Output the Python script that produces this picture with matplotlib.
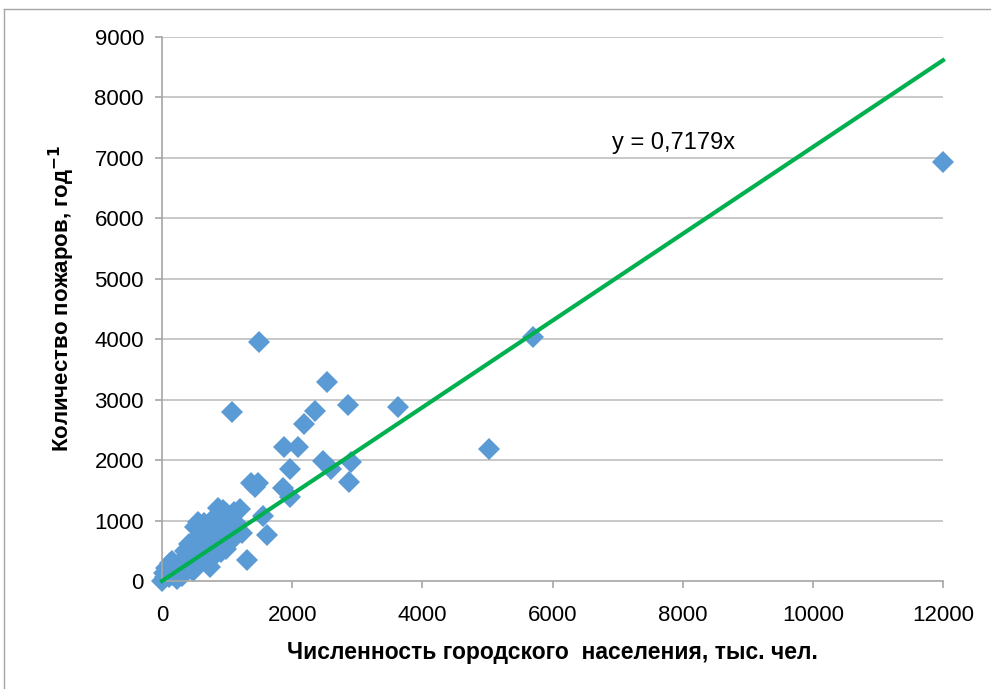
import matplotlib
matplotlib.use("Agg")
import matplotlib.pyplot as plt
import numpy as np
from matplotlib.lines import Line2D

# Data: population (thousand people) vs number of fires per year
population = [12000, 5700, 5020, 3620, 1490, 2540, 2860, 2350, 1080, 2180,
              1880, 2090, 1960, 2470, 2590, 2900, 2870, 1860, 1970, 1370,
              1470, 1430, 1550, 1610, 1310,
              1200, 1100, 1230, 1060, 990, 940, 860, 1000, 980, 1050,
              900, 880, 820, 760, 700, 640, 560, 510, 600, 700,
              760, 640, 520, 420, 480, 560, 650, 740, 830, 900,
              700, 740, 560, 480, 460, 380, 330, 270, 220, 180,
              140, 120, 100, 80, 50, 0, 160, 250, 300, 380,
              420, 600, 800, 900, 1050, 1150, 350, 450, 550, 660,
              60, 110, 200, 150, 30, 230, 310]
fires = [6930, 4030, 2180, 2880, 3960, 3290, 2920, 2820, 2790, 2590,
         2210, 2210, 1850, 1990, 1850, 1970, 1640, 1540, 1390, 1620,
         1620, 1560, 1070, 760, 340,
         1190, 1140, 800, 1000, 1130, 1170, 1210, 1000, 530, 900,
         980, 720, 850, 1000, 930, 960, 980, 900, 800, 800,
         640, 680, 700, 620, 540, 560, 510, 560, 580, 600,
         350, 230, 330, 170, 300, 430, 330, 300, 250, 280,
         200, 300, 150, 100, 60, 0, 100, 120, 180, 240,
         360, 440, 420, 480, 650, 950, 500, 450, 620, 580,
         220, 60, 130, 330, 130, 40, 90]
slope = 0.7179
trend_x = [0, 12000]
x_ticks = [0, 2000, 4000, 6000, 8000, 10000, 12000]
y_ticks = [0, 1000, 2000, 3000, 4000, 5000, 6000, 7000, 8000, 9000]

plt.rcParams['font.family'] = ['Liberation Sans', 'DejaVu Sans']

fig = plt.figure(figsize=(9.91, 6.89), dpi=100)
ax = fig.add_axes([162/991, 1-581/689, (943-162)/991, (581-37)/689])

ax.set_xlim(0, 12000)
ax.set_ylim(0, 9000)

for yt in y_ticks[1:]:
    ax.axhline(yt, color='#BFBFBF', lw=1.2, zorder=0)

ax.plot(population, fires, linestyle='none', marker='D', ms=11,
        color='#5B9BD5', markeredgewidth=0, zorder=2, clip_on=False)
ax.plot(trend_x, [slope*v for v in trend_x], color='#00B050', lw=3, zorder=3,
        clip_on=False)

ax.set_xticks(x_ticks)
ax.set_yticks(y_ticks)
ax.tick_params(axis='both', labelsize=16, colors='#A6A6A6', labelcolor='black',
               length=5, width=1.2, direction='out')
ax.tick_params(axis='x', pad=12)
ax.tick_params(axis='y', pad=8)
for s in ['top', 'right']:
    ax.spines[s].set_visible(False)
for s in ['left', 'bottom']:
    ax.spines[s].set_color('#A6A6A6')
    ax.spines[s].set_linewidth(1.2)

fig.text(552/991, 1-652/689, 'Численность городского  населения, тыс. чел.',
         ha='center', va='center', fontsize=16.5, fontweight='bold')
fig.text(62/991, 1-298/689, 'Количество пожаров, год$^{\\mathbf{-1}}$',
         ha='center', va='center', fontsize=16, fontweight='bold', rotation=90)

fig.text(612/991, 1-143/689, 'y = 0,7179x',
         ha='left', va='center', fontsize=17)

fig.add_artist(Line2D([4/991, 1], [1-9/689, 1-9/689], transform=fig.transFigure,
                      color='#A6A6A6', lw=1))
fig.add_artist(Line2D([4/991, 4/991], [0, 1-9/689], transform=fig.transFigure,
                      color='#A6A6A6', lw=1))

fig.savefig('out.png', dpi=100)
